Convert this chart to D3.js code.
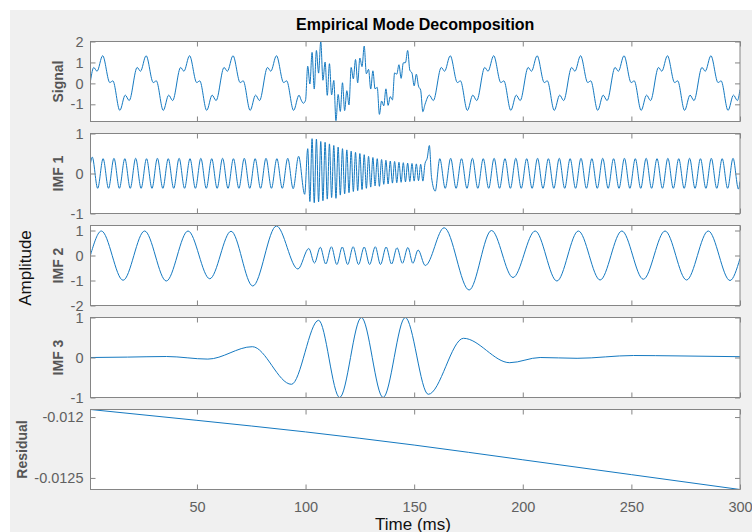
<!DOCTYPE html>
<html>
<head>
<meta charset="utf-8">
<script src="https://cdn.jsdelivr.net/npm/d3@7"></script>
<style>
  html, body { margin: 0; padding: 0; background: #ffffff; }
  svg { display: block; font-family: "Liberation Sans", Arial, Helvetica, sans-serif; }
</style>
</head>
<body>
<svg id="chart" width="752" height="532"></svg>
<script>
// ---- data: [time (ms), value] ----
const timeDomain = [1, 300];
const xTickValues = [50, 100, 150, 200, 250, 300];
const panelNames = ["Signal", "IMF 1", "IMF 2", "IMF 3", "Residual"];

const signalTicks = [-1, 0, 1, 2];
const imf1Ticks = [-1, 0, 1];
const imf2Ticks = [-2, -1, 0, 1];
const imf3Ticks = [-1, 0, 1];
const residualTicks = [-0.0125, -0.012];

const signalLimits = [-1.82, 2];
const imf1Limits = [-1, 1];
const imf2Limits = [-2, 1.2];
const imf3Limits = [-1, 1];

const signalPoints = [
  [1,0.12],[2.5,0.76],[4,0.58],[6.6,1.32],[9.9,0.04],[11.3,0.12],[14.5,-1.29],[17,-0.56],[18.8,-0.82],
  [22.5,0.76],[24,0.58],[26.6,1.32],[29.9,0.04],[31.3,0.12],[34.5,-1.29],[37,-0.56],[38.8,-0.82],
  [42.5,0.76],[44,0.58],[46.6,1.32],[49.9,0.04],[51.3,0.12],[54.5,-1.29],[57,-0.56],[58.8,-0.82],
  [62.5,0.76],[64,0.58],[66.6,1.32],[69.9,0.04],[71.3,0.12],[74.5,-1.29],[77,-0.56],[78.8,-0.82],
  [82.5,0.76],[84,0.58],[86.6,1.32],[89.9,0.04],[91.3,0.12],[94.5,-1.29],[97,-0.56],
  [98,-0.80],[99,-0.95],[100,-0.80],
  [101,0.82],[102,-0.03],[103,1.48],[104,-0.27],[105,1.57],[106,0.49],[107,2.00],[108,0.15],[109,1.02],[110,-0.57],
  [111,0.94],[112,-0.55],[113,0.14],[114,-1.78],[115,-0.53],[116,-1.34],[117,0.03],[118,-1.30],[119,-0.35],[120,-1.03],
  [121,0.76],[122,0.22],[123,1.14],[124,0.03],[125,1.21],[126,0.80],[127,1.78],[128,0.46],[129,0.67],[130,-0.27],
  [131,0.60],[132,-0.26],[133,-0.19],[134,-1.48],[135,-0.84],[136,-1.07],[137,-0.26],[138,-1.05],[139,-0.63],[140,-0.79],
  [141,0.50],[142,0.44],[143,0.89],[144,0.24],[145,0.98],[146,0.99],[147,1.57],[148,0.63],[149,0.49],[150,-0.12],
  [151,0.44],[152,-0.13],[153,-0.33],[154,-1.35],[155,-1.00],[157,-0.56],[158.8,-0.82],
  [162.5,0.76],[164,0.58],[166.6,1.32],[169.9,0.04],[171.3,0.12],[174.5,-1.29],[177,-0.56],[178.8,-0.82],
  [182.5,0.76],[184,0.58],[186.6,1.32],[189.9,0.04],[191.3,0.12],[194.5,-1.29],[197,-0.56],[198.8,-0.82],
  [202.5,0.76],[204,0.58],[206.6,1.32],[209.9,0.04],[211.3,0.12],[214.5,-1.29],[217,-0.56],[218.8,-0.82],
  [222.5,0.76],[224,0.58],[226.6,1.32],[229.9,0.04],[231.3,0.12],[234.5,-1.29],[237,-0.56],[238.8,-0.82],
  [242.5,0.76],[244,0.58],[246.6,1.32],[249.9,0.04],[251.3,0.12],[254.5,-1.29],[257,-0.56],[258.8,-0.82],
  [262.5,0.76],[264,0.58],[266.6,1.32],[269.9,0.04],[271.3,0.12],[274.5,-1.29],[277,-0.56],[278.8,-0.82],
  [282.5,0.76],[284,0.58],[286.6,1.32],[289.9,0.04],[291.3,0.12],[294.5,-1.29],[297,-0.56],[298.8,-0.82],
  [300,-0.30]
];

const imf1Points = [
  [1,0.25],[1.8,0.41],[4.3,-0.37],[6.8,0.37],[9.3,-0.37],[11.8,0.38],[14.3,-0.37],[16.8,0.37],[19.3,-0.37],
  [21.8,0.38],[24.3,-0.37],[26.8,0.37],[29.3,-0.37],[31.8,0.38],[34.3,-0.37],[36.8,0.37],[39.3,-0.37],
  [41.8,0.38],[44.3,-0.37],[46.8,0.37],[49.3,-0.37],[51.8,0.38],[54.3,-0.37],[56.8,0.37],[59.3,-0.37],
  [61.8,0.38],[64.3,-0.37],[66.8,0.37],[69.3,-0.37],[71.8,0.38],[74.3,-0.37],[76.8,0.37],[79.3,-0.37],
  [81.8,0.38],[84.3,-0.37],[86.8,0.37],[89.3,-0.37],[91.8,0.38],[94.3,-0.38],[96.8,0.43],[99.6,-0.52],
  [101,0.62],[102,-0.70],[103,0.87],[104,-0.73],[105,0.86],[106,-0.71],[107,0.80],[108,-0.68],[109,0.78],[110,-0.64],
  [111,0.74],[112,-0.60],[113,0.70],[114,-0.62],[115,0.66],[116,-0.54],[117,0.62],[118,-0.51],[119,0.59],[120,-0.48],
  [121,0.56],[122,-0.45],[123,0.53],[124,-0.43],[125,0.50],[126,-0.40],[127,0.47],[128,-0.37],[129,0.43],[130,-0.34],
  [131,0.40],[132,-0.31],[133,0.37],[134,-0.32],[135,0.35],[136,-0.27],[137,0.33],[138,-0.26],[139,0.31],[140,-0.24],
  [141,0.30],[142,-0.23],[143,0.28],[144,-0.22],[145,0.27],[146,-0.21],[147,0.26],[148,-0.20],[149,0.25],[150,-0.19],
  [151,0.24],[152,-0.18],[153,0.23],[154,-0.19],[155,0.25],[156,0.38],[157,0.70],[158,-0.10],[159.7,-0.44],
  [161.8,0.37],[164.3,-0.37],[166.8,0.38],[169.3,-0.37],[171.8,0.37],[174.3,-0.37],[176.8,0.38],[179.3,-0.37],
  [181.8,0.37],[184.3,-0.37],[186.8,0.38],[189.3,-0.37],[191.8,0.37],[194.3,-0.37],[196.8,0.38],[199.3,-0.37],
  [201.8,0.37],[204.3,-0.37],[206.8,0.38],[209.3,-0.37],[211.8,0.37],[214.3,-0.37],[216.8,0.38],[219.3,-0.37],
  [221.8,0.37],[224.3,-0.37],[226.8,0.38],[229.3,-0.37],[231.8,0.37],[234.3,-0.37],[236.8,0.38],[239.3,-0.37],
  [241.8,0.37],[244.3,-0.37],[246.8,0.38],[249.3,-0.37],[251.8,0.37],[254.3,-0.37],[256.8,0.38],[259.3,-0.37],
  [261.8,0.37],[264.3,-0.37],[266.8,0.38],[269.3,-0.37],[271.8,0.37],[274.3,-0.37],[276.8,0.38],[279.3,-0.37],
  [281.8,0.37],[284.3,-0.37],[286.8,0.38],[289.3,-0.37],[291.8,0.37],[294.3,-0.37],[296.8,0.38],[299.3,-0.39],
  [300,-0.20]
];

const imf2Points = [
  [1,0.02],[6,0.98],[16,-0.99],[25.9,0.98],[35.9,-1.02],[45.9,0.98],[55.9,-0.93],[65.7,0.97],[75.7,-1.22],[86.6,1.18],
  [96.5,-0.54],[101.5,0.28],[104.1,-0.30],[106.8,0.33],[109.3,-0.34],[111.9,0.35],[114.4,-0.36],[116.9,0.34],[119.4,-0.36],
  [121.9,0.35],[124.4,-0.36],[127,0.34],[129.5,-0.36],[132.1,0.35],[134.5,-0.36],[137.1,0.34],[139.6,-0.34],[142.1,0.31],
  [144.6,-0.31],[147.1,0.32],[149.4,-0.31],[151.8,0.22],[155.1,-0.40],
  [163.8,1.11],[175.3,-1.38],[185.6,1.00],[195.5,-0.88],[205.7,0.98],[215.7,-1.02],[225.6,0.98],[235.6,-0.98],
  [245.6,0.98],[255.5,-0.95],[265.5,0.98],[275.4,-0.98],[285.4,0.98],[295.4,-1.00],[300,-0.12]
];

const imf3Points = [
  [1,0],[18,0.01],[36,0.025],[55,-0.04],[75.5,0.27],[93.5,-0.67],[106,0.93],[115.7,-1.0],[125.7,1.0],
  [135.7,-1.0],[145.9,1.0],[156.5,-0.92],[172.7,0.48],[194,-0.13],[208,0.0],[225,-0.02],[251,0.05],[271,0.04],[300,0.02]
];

const residualPoints = [
  [1,-0.011938],[50,-0.012027],[100,-0.012122],[150,-0.012230],[200,-0.012351],[250,-0.012473],[300,-0.012595]
];

// ---- layout ----
const plotLeft = 90.5, plotRight = 740;
const firstTop = 41.5, panelStep = 92, panelH = 80;
const lineColor = "#1579c0";
const axisColor = "#858585";
const tickTextColor = "#606060";

const svg = d3.select("#chart");

// figure background
svg.append("rect")
  .attr("x", 10).attr("y", 10)
  .attr("width", 742).attr("height", 522)
  .attr("fill", "#f0f0f0");

const x = d3.scaleLinear().domain(timeDomain).range([plotLeft, plotRight]);

const panels = [
  { name: panelNames[0], pts: signalPoints, domain: signalLimits, ticks: signalTicks },
  { name: panelNames[1], pts: imf1Points, domain: imf1Limits, ticks: imf1Ticks },
  { name: panelNames[2], pts: imf2Points, domain: imf2Limits, ticks: imf2Ticks },
  { name: panelNames[3], pts: imf3Points, domain: imf3Limits, ticks: imf3Ticks },
  { name: panelNames[4], pts: residualPoints, domain: d3.extent(residualPoints, d => d[1]), ticks: residualTicks }
];

function styleAxis(g, showText) {
  g.attr("font-family", null).attr("font-size", null);
  g.select(".domain").remove();
  g.selectAll(".tick line").attr("stroke", axisColor).attr("stroke-width", 1);
  g.selectAll(".tick text")
    .attr("fill", tickTextColor)
    .style("font-size", "14.5px")
    .style("font-family", "'Liberation Sans', Arial, sans-serif");
  if (!showText) g.selectAll(".tick text").remove();
}

panels.forEach((p, i) => {
  const top = firstTop + i * panelStep;
  const y = d3.scaleLinear().domain(p.domain).range([panelH, 0]);
  const g = svg.append("g").attr("transform", `translate(0,${top})`);

  g.append("rect")
    .attr("x", plotLeft).attr("y", 0)
    .attr("width", plotRight - plotLeft).attr("height", panelH)
    .attr("fill", "#ffffff");

  const clipId = "clip" + i;
  g.append("clipPath").attr("id", clipId)
    .append("rect")
    .attr("x", plotLeft).attr("y", 0)
    .attr("width", plotRight - plotLeft).attr("height", panelH);

  const line = d3.line()
    .x(d => x(d[0]))
    .y(d => y(d[1]))
    .curve(d3.curveMonotoneX);

  g.append("path")
    .datum(p.pts)
    .attr("clip-path", `url(#${clipId})`)
    .attr("fill", "none")
    .attr("stroke", lineColor)
    .attr("stroke-width", 1)
    .attr("stroke-linejoin", "round")
    .attr("d", line);

  // y axes, ticks pointing inward on both sides
  const gl = g.append("g").attr("transform", `translate(${plotLeft},0)`)
    .call(d3.axisLeft(y).tickValues(p.ticks).tickSize(-5).tickPadding(7).tickFormat(d => String(d)));
  styleAxis(gl, true);
  const gr = g.append("g").attr("transform", `translate(${plotRight},0)`)
    .call(d3.axisRight(y).tickValues(p.ticks).tickSize(-5).tickFormat(""));
  styleAxis(gr, false);

  // x axes, ticks inward on top and bottom
  const gt = g.append("g").attr("transform", "translate(0,0)")
    .call(d3.axisTop(x).tickValues(xTickValues).tickSize(-5).tickFormat(""));
  styleAxis(gt, false);
  const isLast = i === panels.length - 1;
  const gb = g.append("g").attr("transform", `translate(0,${panelH})`)
    .call(d3.axisBottom(x).tickValues(xTickValues).tickSize(-5).tickPadding(12).tickFormat(d => String(d)));
  styleAxis(gb, isLast);

  // box
  g.append("rect")
    .attr("x", plotLeft).attr("y", 0)
    .attr("width", plotRight - plotLeft).attr("height", panelH)
    .attr("fill", "none")
    .attr("stroke", axisColor)
    .attr("stroke-width", 1);

  // panel label, placed left of the widest tick label
  const bb = gl.node().getBBox();
  const labelX = plotLeft + bb.x - 12.5;
  g.append("text")
    .attr("transform", `translate(${labelX},${panelH / 2}) rotate(-90)`)
    .attr("text-anchor", "middle")
    .attr("dy", "0.36em")
    .attr("fill", "#555555")
    .style("font-size", "14px")
    .style("font-weight", "bold")
    .text(p.name);
});

// title and shared labels
svg.append("text")
  .attr("x", (plotLeft + plotRight) / 2).attr("y", 30)
  .attr("text-anchor", "middle")
  .attr("fill", "#000000")
  .style("font-size", "16px")
  .style("font-weight", "bold")
  .text("Empirical Mode Decomposition");

svg.append("text")
  .attr("transform", "translate(31,268) rotate(-90)")
  .attr("text-anchor", "middle")
  .attr("fill", "#111111")
  .style("font-size", "17px")
  .text("Amplitude");

svg.append("text")
  .attr("x", 413).attr("y", 529.5)
  .attr("text-anchor", "middle")
  .attr("fill", "#111111")
  .style("font-size", "17px")
  .text("Time (ms)");
</script>
</body>
</html>
